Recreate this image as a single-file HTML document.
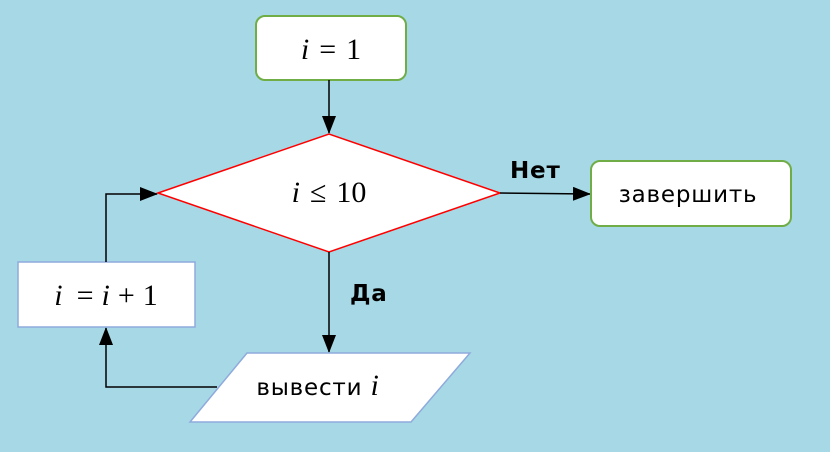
<!DOCTYPE html>
<html><head><meta charset="utf-8"><style>
html,body{margin:0;padding:0;background:#a6d9e5;}
svg{display:block}
.m{font-family:"Liberation Serif",serif;font-size:30px;}
.t{font-family:"DejaVu Sans","Liberation Sans",sans-serif;font-size:23px;letter-spacing:0.8px;}
</style></head><body>
<svg width="830" height="452" viewBox="0 0 830 452">
<defs><marker id="ah2" markerWidth="18" markerHeight="14" refX="17" refY="7" orient="auto" markerUnits="userSpaceOnUse"><path d="M0,0 L18,7 L0,14 z" fill="#000"/></marker></defs>
<rect width="830" height="452" fill="#a6d9e5"/>
<g>
<rect x="256" y="16" width="150" height="64" rx="9" fill="#fff" stroke="#70ad47" stroke-width="2"/>
<text x="331" y="59" text-anchor="middle" class="m"><tspan font-style="italic">i</tspan><tspan dx="10">=</tspan><tspan dx="10">1</tspan></text></g>
<line x1="329" y1="80" x2="329" y2="133" stroke="#000" stroke-width="1.5" marker-end="url(#ah2)"/>
<g>
<polygon points="158,193 329,134 500,193 329,252" fill="#fff" stroke="#ff0000" stroke-width="1.5"/>
<text x="329" y="202" text-anchor="middle" class="m"><tspan font-style="italic">i</tspan><tspan dx="10">≤</tspan><tspan dx="10">10</tspan></text></g>
<text x="510" y="178" class="t" font-weight="bold">Нет</text>
<line x1="500" y1="193" x2="590" y2="194" stroke="#000" stroke-width="1.5" marker-end="url(#ah2)"/>
<g>
<rect x="591" y="161" width="200" height="65" rx="9" fill="#fff" stroke="#70ad47" stroke-width="2"/>
<text x="688" y="202" text-anchor="middle" class="t">завершить</text></g>
<text x="350" y="301" class="t" font-weight="bold">Да</text>
<line x1="329" y1="252" x2="329" y2="352" stroke="#000" stroke-width="1.5" marker-end="url(#ah2)"/>
<g>
<polygon points="247,353 470,353 411,422 190,422" fill="#fff" stroke="#8faadc" stroke-width="1.5"/>
<text x="318" y="395" text-anchor="middle" class="t">вывести <tspan class="m" font-style="italic">i</tspan></text></g>
<polyline points="217,387 106,387 106,328" fill="none" stroke="#000" stroke-width="1.5" marker-end="url(#ah2)"/>
<g>
<rect x="18" y="262" width="177" height="65" fill="#fff" stroke="#8faadc" stroke-width="1.5"/>
<text x="106" y="305" text-anchor="middle" class="m"><tspan font-style="italic">i</tspan><tspan dx="14">=</tspan><tspan dx="8" font-style="italic">i</tspan><tspan dx="8">+</tspan><tspan dx="8">1</tspan></text></g>
<polyline points="106,262 106,194 157,194" fill="none" stroke="#000" stroke-width="1.5" marker-end="url(#ah2)"/>
</svg>
</body></html>
